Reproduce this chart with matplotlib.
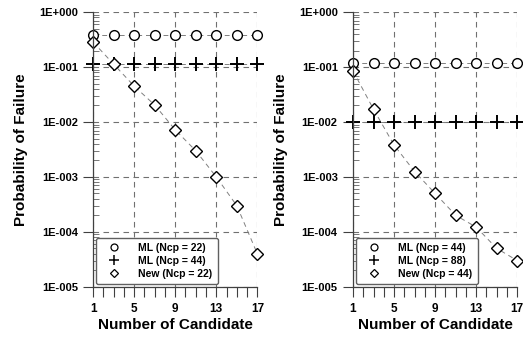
import numpy as np
import matplotlib
matplotlib.use("Agg")
import matplotlib.pyplot as plt
from matplotlib.lines import Line2D
from matplotlib.ticker import LogLocator, FixedLocator, NullFormatter

plt.rcParams['font.family'] = ['Liberation Sans', 'DejaVu Sans']
plt.rcParams['font.weight'] = 'bold'

candidates = [1, 3, 5, 7, 9, 11, 13, 15, 17]

# left panel
ml_22 = [0.38] * 9
ml_44 = [0.113] * 9
new_22 = [0.285, 0.113, 0.045, 0.0204, 0.0072, 0.003, 0.001, 0.0003, 0.00004]

# right panel
ml_44b = [0.118] * 9
ml_88 = [0.01] * 9
new_44 = [0.085, 0.017, 0.0038, 0.00125, 0.0005, 0.0002, 0.000122, 0.00005, 0.00003]

panels = [
    (ml_22, ml_44, new_22, ['ML (Ncp = 22)', 'ML (Ncp = 44)', 'New (Ncp = 22)']),
    (ml_44b, ml_88, new_44, ['ML (Ncp = 44)', 'ML (Ncp = 88)', 'New (Ncp = 44)']),
]

yticks = [1e-5, 1e-4, 1e-3, 1e-2, 1e-1, 1e0]
ylabels = ['1E-005', '1E-004', '1E-003', '1E-002', '1E-001', '1E+000']
xticks = [1, 5, 9, 13, 17]

fig = plt.figure(figsize=(5.23, 3.37), dpi=100)
lefts = [0.178, 0.675]

for left, (circ, plus, diam, names) in zip(lefts, panels):
    ax = fig.add_axes([left, 0.149, 0.314, 0.815])
    ax.set_yscale('log')
    ax.set_xlim(1, 17)
    ax.set_ylim(1e-5, 1)

    line_kw = dict(color='#808080', lw=0.7, ls=(0, (5, 4)), clip_on=False,
                   markeredgecolor='black', markerfacecolor='white', markeredgewidth=1.0)
    ax.plot(candidates, circ, marker='o', ms=7, **line_kw)
    ax.plot(candidates, plus, marker='+', ms=10,
            color='#808080', lw=0.7, ls=(0, (5, 4)), clip_on=False,
            markeredgecolor='black', markeredgewidth=1.4)
    ax.plot(candidates, diam, marker='D', ms=6, **line_kw)

    ax.set_yticks(yticks)
    ax.set_yticklabels(ylabels)
    ax.yaxis.set_minor_locator(LogLocator(base=10, subs=np.arange(2, 10)))
    ax.yaxis.set_minor_formatter(NullFormatter())
    ax.set_xticks(xticks)
    ax.xaxis.set_minor_locator(FixedLocator(range(1, 18)))

    ax.grid(True, which='major', color='#707070', ls=(0, (5, 4)), lw=0.8)
    ax.set_axisbelow(True)
    ax.spines['top'].set_visible(False)
    ax.spines['right'].set_visible(False)
    for s in ['left', 'bottom']:
        ax.spines[s].set_color('#404040')
        ax.spines[s].set_linewidth(0.9)

    ax.tick_params(axis='y', which='major', direction='out', length=7, width=0.8,
                   labelsize=8, color='#404040', pad=4)
    ax.tick_params(axis='y', which='minor', direction='in', length=4.5, width=0.6, color='#606060')
    ax.tick_params(axis='x', which='both', direction='out', length=7, width=0.8,
                   labelsize=8.5, color='#404040', pad=4.5)

    ax.set_xlabel('Number of Candidate', fontsize=11, fontweight='bold', labelpad=2)
    ax.set_ylabel('Probability of Failure', fontsize=11, fontweight='bold', labelpad=8)

    # legend shows markers only, smaller than in the plot
    proxies = [
        Line2D([], [], ls='none', marker='o', ms=5, mfc='white', mec='black', mew=0.9),
        Line2D([], [], ls='none', marker='+', ms=7, mec='black', mew=1.1),
        Line2D([], [], ls='none', marker='D', ms=4, mfc='white', mec='black', mew=0.9),
    ]
    leg = ax.legend(proxies, names, loc='lower left', bbox_to_anchor=(0.0, 0.0), fontsize=7.5,
                    fancybox=True, framealpha=1, edgecolor='#606060',
                    handlelength=2.6, borderpad=0.5, labelspacing=0.3,
                    handletextpad=1.0, borderaxespad=0.25)
    for t in leg.get_texts():
        t.set_fontweight('bold')

fig.savefig('out.png', dpi=100)
